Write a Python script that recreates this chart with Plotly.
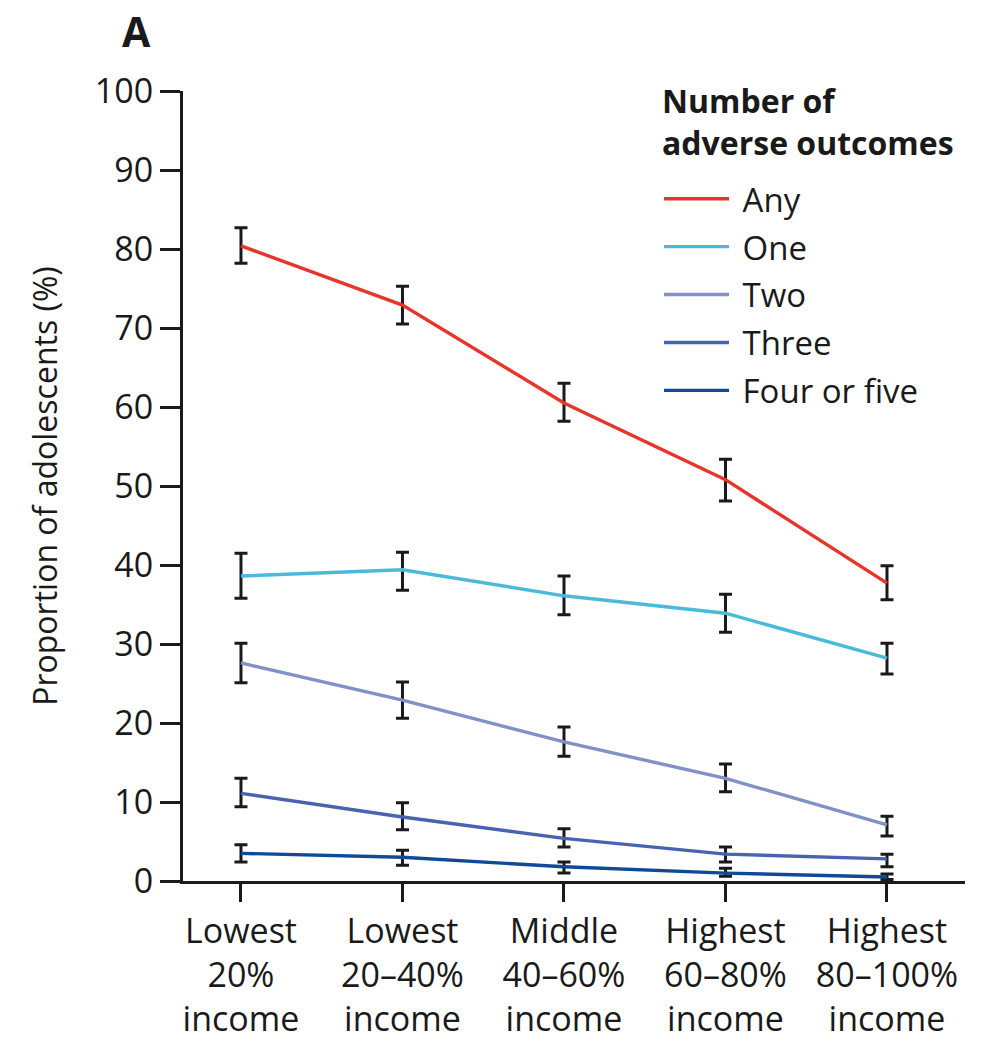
import plotly.graph_objects as go

categories = ["Lowest<br>20%<br>income", "Lowest<br>20–40%<br>income", "Middle<br>40–60%<br>income",
              "Highest<br>60–80%<br>income", "Highest<br>80–100%<br>income"]
series_names = ["Any", "One", "Two", "Three", "Four or five"]
legend_title = "Number of<br>adverse outcomes"

any_val = [80.4, 72.9, 60.5, 50.8, 37.7]
any_lo = [78.2, 70.5, 58.2, 48.1, 35.6]
any_hi = [82.7, 75.3, 63.0, 53.4, 39.9]

one_val = [38.6, 39.4, 36.1, 33.9, 28.2]
one_lo = [35.8, 36.8, 33.7, 31.5, 26.2]
one_hi = [41.5, 41.6, 38.6, 36.3, 30.1]

two_val = [27.6, 22.9, 17.6, 13.0, 7.1]
two_lo = [25.1, 20.6, 15.8, 11.3, 5.7]
two_hi = [30.1, 25.2, 19.5, 14.8, 8.2]

three_val = [11.1, 8.1, 5.4, 3.4, 2.8]
three_lo = [9.4, 6.5, 4.3, 2.4, 1.8]
three_hi = [13.0, 9.9, 6.6, 4.3, 3.4]

four_val = [3.5, 3.0, 1.8, 1.0, 0.5]
four_lo = [2.4, 2.0, 1.0, 0.6, 0.2]
four_hi = [4.6, 3.9, 2.4, 1.6, 0.9]

colors = ["#E8352B", "#4BBAD9", "#8091C8", "#4864AE", "#0E4A96"]

values = [any_val, one_val, two_val, three_val, four_val]
lows = [any_lo, one_lo, two_lo, three_lo, four_lo]
highs = [any_hi, one_hi, two_hi, three_hi, four_hi]

FONT = "Open Sans"
fig = go.Figure()
x_idx = list(range(len(categories)))
for i, name in enumerate(series_names):
    v, lo, hi = values[i], lows[i], highs[i]
    fig.add_trace(go.Scatter(
        x=x_idx, y=v, mode="lines", name="\u00a0" + name, legendgroup=name,
        line=dict(color=colors[i], width=3.4),
        error_y=dict(type="data", symmetric=False,
                     array=[h - a for h, a in zip(hi, v)],
                     arrayminus=[a - l for a, l in zip(v, lo)],
                     color="#1a1a1a", thickness=3, width=6.5),
    ))

annotations = [
    dict(text="<b>A</b>", x=-0.059, y=1.1139, xref="paper", yref="paper",
         showarrow=False, font=dict(size=41, family=FONT), xanchor="center", yanchor="top"),
    dict(text="<b>" + legend_title + "</b>", x=0.610, y=0.962, xref="paper", yref="paper",
         showarrow=False, align="left", font=dict(size=32, family=FONT), xanchor="left", yanchor="middle"),
]

fig.update_layout(
    width=986, height=1045,
    margin=dict(l=183, r=21, t=91, b=164, autoexpand=False),
    paper_bgcolor="white", plot_bgcolor="white",
    font=dict(family=FONT, color="#1a1a1a", size=33),
    showlegend=True,
    legend=dict(
        x=0.6087, y=0.899, xanchor="left", yanchor="top",
        font=dict(size=33, family=FONT),
        tracegroupgap=2, itemwidth=65, bgcolor="rgba(0,0,0,0)",
    ),
    xaxis=dict(
        range=[-0.359, 4.483], tickmode="array", tickvals=x_idx, ticktext=categories,
        showline=True, linecolor="#1a1a1a", linewidth=3, ticks="outside", ticklen=18,
        tickwidth=3, tickcolor="#1a1a1a", showgrid=False, zeroline=False, automargin=False,
        tickfont=dict(size=34, family=FONT),
    ),
    yaxis=dict(
        range=[0, 100], tickmode="array", tickvals=list(range(0, 101, 10)),
        showline=True, linecolor="#1a1a1a", linewidth=3, ticks="outside", ticklen=20,
        tickwidth=3, tickcolor="#1a1a1a", showgrid=False, zeroline=False, automargin=False,
        tickfont=dict(size=34, family=FONT),
        title=dict(text="Proportion of adolescents (%)", font=dict(size=32, family=FONT), standoff=28),
    ),
    annotations=annotations,
)

fig.write_html("out.html")
